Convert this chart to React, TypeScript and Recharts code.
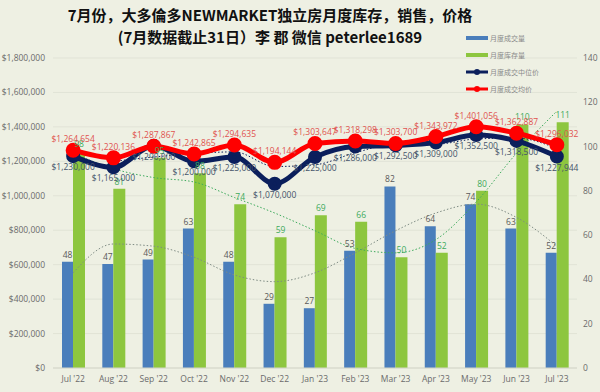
import { ComposedChart, Bar, Line, XAxis, YAxis, CartesianGrid, LabelList } from "recharts";

const months = ["Jul '22", "Aug '22", "Sep '22", "Oct '22", "Nov '22", "Dec '22", "Jan '23", "Feb '23", "Mar '23", "Apr '23", "May '23", "Jun '23", "Jul '23"];
const sales = [48, 47, 49, 63, 48, 29, 27, 53, 82, 64, 74, 63, 52];
const inventory = [98, 81, 95, 88, 74, 59, 69, 66, 50, 52, 80, 110, 111];
const medianPrice = [1230000, 1165000, 1290000, 1200000, 1225000, 1070000, 1225000, 1286000, 1292500, 1309000, 1352500, 1318500, 1227944];
const avgPrice = [1264654, 1220136, 1287867, 1242865, 1294635, 1194144, 1303647, 1318298, 1303700, 1343972, 1401056, 1362887, 1296032];
// dotted trend lines
const salesTrend = [43, 56, 55, 50, 42, 39, 43, 52, 62, 70, 74, 68, 55];
const inventoryTrend = [97, 90, 86, 84, 77, 70, 62, 54, 52, 58, 75, 97, 116];
const medianTrend = [null, 1200000, 1225000, 1245000, 1255000, 1170000, 1180000, 1250000, 1300000, 1300000, 1330000, 1335000, 1275000];

const leftTicks = [0, 200000, 400000, 600000, 800000, 1000000, 1200000, 1400000, 1600000, 1800000];
const rightTicks = [0, 20, 40, 60, 80, 100, 120, 140];

const data = months.map((m, i) => ({
  month: m,
  sales: sales[i],
  inventory: inventory[i],
  median: medianPrice[i],
  avg: avgPrice[i],
  salesTrend: salesTrend[i],
  inventoryTrend: inventoryTrend[i],
  medianTrend: medianTrend[i],
}));

const money = (v: number) => "$" + v.toLocaleString("en-US");
const font = "'Open Sans', 'Liberation Sans', sans-serif";

const legendItems = [
  { label: "月度成交量", color: "#4a7ebb", type: "bar" },
  { label: "月度库存量", color: "#8dc63f", type: "bar" },
  { label: "月度成交中位价", color: "#0b1f5c", type: "line" },
  { label: "月度成交均价", color: "#ff0000", type: "line" },
];

function LegendBox() {
  return (
    <div style={{ position: "absolute", left: 466, top: 32, display: "flex", flexDirection: "column", gap: 6 }}>
      {legendItems.map((it) => (
        <div key={it.label} style={{ display: "flex", alignItems: "center", height: 11 }}>
          <svg width={22} height={10}>
            {it.type === "bar" ? (
              <rect x={0} y={3} width={22} height={4} fill={it.color} />
            ) : (
              <g>
                <line x1={0} y1={5} x2={22} y2={5} stroke={it.color} strokeWidth={3} />
                <circle cx={11} cy={5} r={3} fill={it.color} />
              </g>
            )}
          </svg>
          <span style={{ fontSize: 7, color: "#8a8a8a", marginLeft: 2, fontFamily: "'Noto Sans CJK SC', sans-serif" }}>{it.label}</span>
        </div>
      ))}
    </div>
  );
}

export default function App() {
  return (
    <div style={{ position: "absolute", left: 0, top: 0, width: 600, height: 392, background: "#eef0e3", overflow: "hidden" }}>
      <ComposedChart
        width={600}
        height={392}
        data={data}
        margin={{ top: 58, right: 0, left: 0, bottom: 0 }}
        barGap={0}
        style={{ fontFamily: font }}
      >
        <CartesianGrid vertical={false} stroke="#e1e3d6" yAxisId="left" />
        <XAxis dataKey="month" tickLine={false} axisLine={{ stroke: "#d4d6c9" }} tick={{ fontSize: 8.5, fill: "#6b6b6b" }} height={24} interval={0} />
        <YAxis yAxisId="left" domain={[0, 1800000]} ticks={leftTicks} tickFormatter={money} axisLine={false} tickLine={false} width={53} tick={{ fontSize: 8.5, fill: "#6b6b6b" }} />
        <YAxis yAxisId="right" orientation="right" domain={[0, 140]} ticks={rightTicks} axisLine={false} tickLine={false} width={23} tickSize={4} tick={{ fontSize: 8.5, fill: "#6b6b6b" }} />
        <Bar yAxisId="right" dataKey="sales" fill="#4a7ebb" barSize={11} isAnimationActive={false}>
          <LabelList dataKey="sales" position="top" offset={4} style={{ fontSize: 8.5, fill: "#595959" }} />
        </Bar>
        <Bar yAxisId="right" dataKey="inventory" fill="#8dc63f" barSize={12} isAnimationActive={false}>
          <LabelList dataKey="inventory" position="top" offset={4} style={{ fontSize: 8.5, fill: "#3daa5c" }} />
        </Bar>
        <Line yAxisId="right" dataKey="salesTrend" type="monotone" stroke="#7f8c84" strokeWidth={1} strokeDasharray="1.5 2" dot={false} isAnimationActive={false} />
        <Line yAxisId="right" dataKey="inventoryTrend" type="monotone" stroke="#3daa5c" strokeWidth={1} strokeDasharray="1.5 2" dot={false} isAnimationActive={false} />
        <Line yAxisId="left" dataKey="medianTrend" type="monotone" stroke="#0b1f5c" strokeWidth={1} strokeDasharray="1.5 2" dot={false} isAnimationActive={false} connectNulls />
        <Line yAxisId="left" dataKey="median" type="monotone" stroke="#0b1f5c" strokeWidth={5} dot={{ r: 4.5, fill: "#0b1f5c", stroke: "#0b1f5c" }} isAnimationActive={false}>
          <LabelList dataKey="median" position="bottom" offset={8} formatter={money} style={{ fontSize: 8.5, fill: "#44546a" }} />
        </Line>
        <Line yAxisId="left" dataKey="avg" type="monotone" stroke="#ff0000" strokeWidth={5} dot={{ r: 5, fill: "#ff0000", stroke: "#ff0000" }} isAnimationActive={false}>
          <LabelList dataKey="avg" position="top" offset={8} formatter={money} style={{ fontSize: 8.5, fill: "#e0524f" }} />
        </Line>
      </ComposedChart>
      <div style={{ position: "absolute", left: 0, top: 4, width: 540, textAlign: "center", fontFamily: "'Noto Sans CJK SC', sans-serif", fontWeight: 700, fontSize: 15, lineHeight: "22px", color: "#111" }}>
        <div>7月份，大多倫多NEWMARKET独立房月度库存，销售，价格</div>
        <div>(7月数据截止31日）李 郡 微信 peterlee1689</div>
      </div>
      <LegendBox />
    </div>
  );
}
